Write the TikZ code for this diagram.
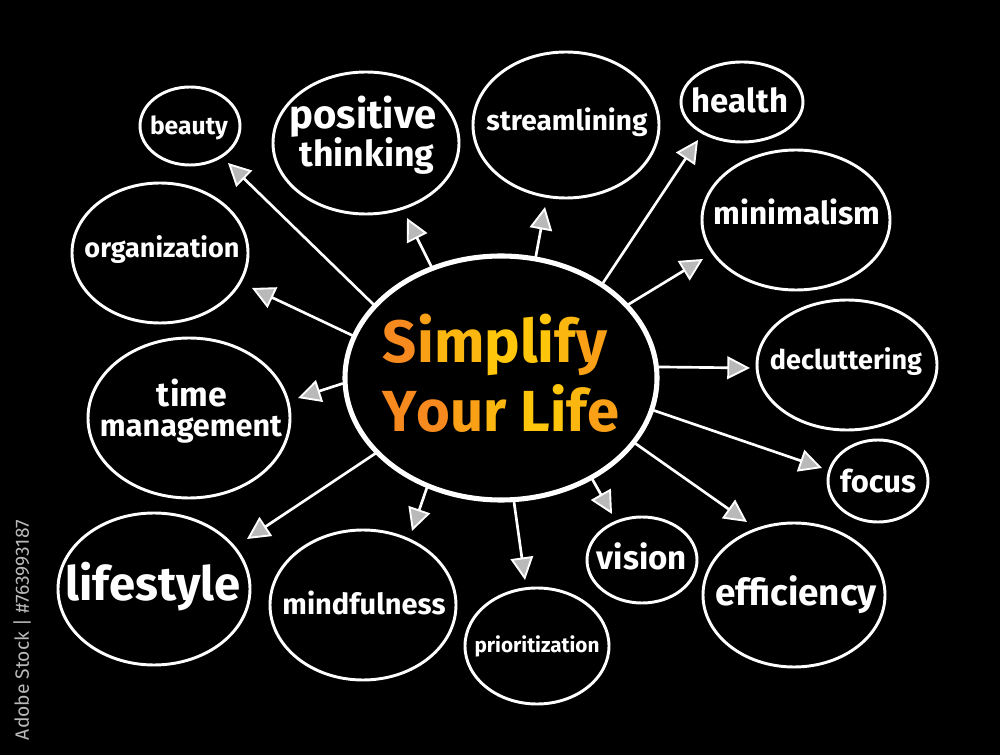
\documentclass[tikz,border=0pt]{standalone}
\usepackage{fontspec}
\setmainfont{Fira Sans}
\usepackage{graphicx}
\usetikzlibrary{shapes.geometric,arrows.meta}
\definecolor{oA}{RGB}{246,138,30}
\definecolor{oB}{RGB}{249,160,22}
\definecolor{oC}{RGB}{252,182,16}
\definecolor{oD}{RGB}{255,198,12}
\definecolor{hatch}{RGB}{185,185,185}
\definecolor{idgray}{RGB}{185,185,185}
\tikzset{
  bub/.style n args={2}{draw=white, line width=2.2pt, ellipse, inner sep=0pt,
    minimum width={0.75pt*#1}, minimum height={0.75pt*#2}},
  lbl/.style={text=white, font=\bfseries, inner sep=0pt, anchor=base},
  conn/.style={draw=white, line width=2pt, line cap=round,
    -{Triangle[length=17pt,width=17pt,fill=hatch,line width=1.4pt]}},
}
\begin{document}
\begin{tikzpicture}[x=0.75pt,y=-0.75pt]
\fill[black] (0,0) rectangle (1000,755);
\useasboundingbox (0,0) rectangle (1000,755);

% central
\node[bub={312}{244}, line width=3.8pt] (c) at (501,378) {};
\node[lbl, font=\bfseries] (cT1) at (495,363) {\resizebox{168pt}{!}{\color{oA}S\color{oB}i\color{oC}m\color{oD}p\color{oD}l\color{oD}i\color{oC}f\color{oB}y}};
\node[lbl, font=\bfseries] (cT2) at (501,432) {\resizebox{177.75pt}{!}{\color{oA}Y\color{oA}o\color{oB}u\color{oC}r\ \color{oD}L\color{oD}i\color{oC}f\color{oB}e}};

% satellites
\node[bub={100}{78}] (beauty) at (190,126) {};
\node[lbl] (beautyT) at (189,135) {\resizebox{58.5pt}{!}{beauty}};

\node[bub={186}{142}] (pos) at (366,143) {};
\node[lbl] (posT1) at (363,129) {\resizebox{110.25pt}{!}{positive}};
\node[lbl] (posT2) at (367,167) {\resizebox{101.25pt}{!}{thinking}};

\node[bub={186}{146}] (stream) at (566,125) {};
\node[lbl] (streamT) at (567,131) {\resizebox{120.75pt}{!}{streamlining}};

\node[bub={122}{80}] (health) at (742,102) {};
\node[lbl] (healthT) at (740,113) {\resizebox{72pt}{!}{health}};

\node[bub={188}{140}] (mini) at (796,220) {};
\node[lbl] (miniT) at (797,225) {\resizebox{125.25pt}{!}{minimalism}};

\node[bub={176}{140}] (org) at (160,253) {};
\node[lbl] (orgT) at (162,258) {\resizebox{116.25pt}{!}{organization}};

\node[bub={180}{130}] (decl) at (847,365) {};
\node[lbl] (declT) at (846,370) {\resizebox{114pt}{!}{decluttering}};

\node[bub={202}{160}] (time) at (189,418) {};
\node[lbl] (timeT1) at (192,407) {\resizebox{52.5pt}{!}{time}};
\node[lbl] (timeT2) at (191,437) {\resizebox{136.5pt}{!}{management}};

\node[bub={100}{82}] (focus) at (878,481) {};
\node[lbl] (focusT) at (878,493) {\resizebox{57pt}{!}{focus}};

\node[bub={192}{152}] (life) at (154,589) {};
\node[lbl] (lifeT) at (153,600) {\resizebox{131.25pt}{!}{lifestyle}};

\node[bub={186}{150}] (mind) at (363,605) {};
\node[lbl] (mindT) at (364,614) {\resizebox{122.25pt}{!}{mindfulness}};

\node[bub={144}{116}] (prio) at (537,646) {};
\node[lbl] (prioT) at (537,652) {\resizebox{93.75pt}{!}{prioritization}};

\node[bub={110}{86}] (vis) at (642,560) {};
\node[lbl] (visT) at (642,570) {\resizebox{67.5pt}{!}{vision}};

\node[bub={182}{144}] (eff) at (794,595) {};
\node[lbl] (effT) at (796,605) {\resizebox{121.5pt}{!}{efficiency}};

% arrow tips (free ends)
\coordinate (tBeauty) at (228,163);
\coordinate (tPos) at (407,218);
\coordinate (tStream) at (545,207);
\coordinate (tHealth) at (698,140);
\coordinate (tMini) at (703,259);
\coordinate (tDecl) at (750,368);
\coordinate (tFocus) at (822,468);
\coordinate (tEff) at (747,522);
\coordinate (tVis) at (612,514);
\coordinate (tPrio) at (525,580);
\coordinate (tMind) at (412,531);
\coordinate (tLife) at (247,539);
\coordinate (tTime) at (298,398);
\coordinate (tOrg) at (252,288);

\draw[conn] (c.150) -- (tBeauty);
\draw[conn] (c.122) -- (tPos);
\draw[conn] (c.74) -- (tStream);
\draw[conn] (c.43) -- (tHealth);
\draw[conn] (c.30) -- (tMini);
\draw[conn] (c.4) -- (tDecl);
\draw[conn] (c.-12) -- (tFocus);
\draw[conn] (c.-26) -- (tEff);
\draw[conn] (c.-48) -- (tVis);
\draw[conn] (c.-84) -- (tPrio);
\draw[conn] (c.236) -- (tMind);
\draw[conn] (c.211) -- (tLife);
\draw[conn] (c.182.5) -- (tTime);
\draw[conn] (c.164) -- (tOrg);

% stock id
\node[text=idgray, rotate=90, inner sep=0pt] (stockid) at (22,630) {\resizebox{165pt}{!}{Adobe Stock | \#763993187}};
\end{tikzpicture}
\end{document}
